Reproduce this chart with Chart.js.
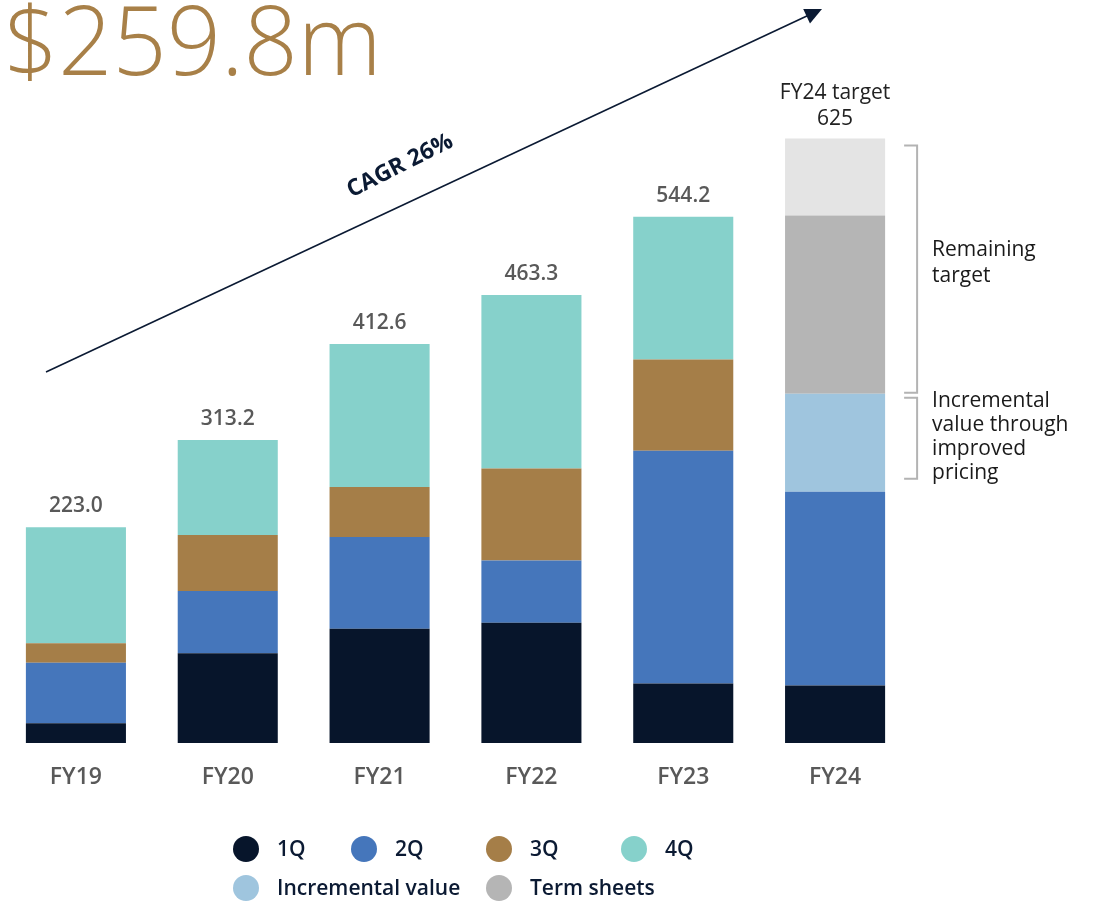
<!DOCTYPE html>
<html>
<head>
<meta charset="utf-8">
<script src="https://cdn.jsdelivr.net/npm/chart.js@4.4.0/dist/chart.umd.min.js"></script>
<style>
  body { margin: 0; background: #fff; }
  #wrap { position: relative; width: 1097px; height: 907px; overflow: hidden; }
</style>
</head>
<body>
<div id="wrap"><canvas id="chart" width="1097" height="907"></canvas></div>
<script>
// data ($m per quarter)
const years = ['FY19', 'FY20', 'FY21', 'FY22', 'FY23', 'FY24'];
const q1 = [20.3, 92.9, 118.1, 124.4, 61.5, 59.4];
const q2 = [62.6, 64.2, 94.9, 64.2, 240.7, 200.4];
const q3 = [20.3, 58.0, 51.8, 95.3, 94.3, null];
const q4 = [119.8, 98.1, 147.8, 179.4, 147.7, null];
const incremental = [null, null, null, null, null, 101.2];
const termSheets = [null, null, null, null, null, 184.4];
const remaining = [null, null, null, null, null, 79.6];
const totals = [223.0, 313.2, 412.6, 463.3, 544.2, 625];

const headline = '$259.8m';
const cagrText = 'CAGR 26%';

const FONT = '"Open Sans", sans-serif';
const NAVY = '#0b1a33';
Chart.defaults.font.family = FONT;

function ds(label, data, color, inLegend) {
  return { label, data, backgroundColor: color, borderWidth: 0, inLegend };
}

const overlay = {
  id: 'overlay',
  afterDatasetsDraw(chart) {
    const ctx = chart.ctx;
    const x = chart.scales.x, y = chart.scales.y;
    const meta = chart.getDatasetMeta(0);
    ctx.save();
    ctx.textAlign = 'center';
    ctx.textBaseline = 'middle';
    totals.forEach((t, i) => {
      const cx = x.getPixelForValue(i);
      const top = y.getPixelForValue(t);
      if (i === years.length - 1) {
        ctx.font = '400 21px ' + FONT;
        ctx.fillStyle = '#222';
        ctx.fillText('FY24 target', cx, top - 46);
        ctx.fillText(String(t), cx, top - 20);
      } else {
        ctx.font = '600 21px ' + FONT;
        ctx.fillStyle = '#595959';
        ctx.fillText(t.toFixed(1), cx, top - 21);
      }
    });

    // brackets beside the FY24 bar
    const last = years.length - 1;
    const barRight = meta.data[last].x + meta.data[last].width / 2;
    const base2 = q1[last] + q2[last];
    const yTop = y.getPixelForValue(totals[last]) + 7;
    const yMid = y.getPixelForValue(base2 + incremental[last]);
    const yLow = y.getPixelForValue(base2) - 13;
    ctx.strokeStyle = '#b3b3b3';
    ctx.lineWidth = 2;
    const bx0 = barRight + 19, bx1 = barRight + 32;
    function bracket(a, b) {
      ctx.beginPath();
      ctx.moveTo(bx0, a); ctx.lineTo(bx1, a); ctx.lineTo(bx1, b); ctx.lineTo(bx0, b);
      ctx.stroke();
    }
    bracket(yTop, yMid - 1);
    bracket(yMid + 4, yLow);

    ctx.font = '400 21px ' + FONT;
    ctx.fillStyle = '#1a1a1a';
    ctx.textAlign = 'left';
    const tx = barRight + 47;
    const notes1 = ['Remaining', 'target'];
    const notes2 = ['Incremental', 'value through', 'improved', 'pricing'];
    let c1 = (yTop + yMid) / 2 - 7;
    notes1.forEach((s, k) => ctx.fillText(s, tx, c1 - 13 + k * 26));
    let c2 = (yMid + yLow) / 2 + 1;
    notes2.forEach((s, k) => ctx.fillText(s, tx, c2 - 36 + k * 24));
    ctx.restore();
  },
  afterDraw(chart) {
    const ctx = chart.ctx;
    ctx.save();
    // headline figure
    ctx.font = '300 95px ' + FONT;
    ctx.fillStyle = '#a88048';
    ctx.textAlign = 'left';
    ctx.textBaseline = 'alphabetic';
    ctx.fillText(headline, 4, 75);

    // growth arrow
    const ax0 = 46, ay0 = 372, ax1 = 822, ay1 = 9;
    const ang = Math.atan2(ay1 - ay0, ax1 - ax0);
    ctx.strokeStyle = NAVY;
    ctx.fillStyle = NAVY;
    ctx.lineWidth = 1.6;
    ctx.beginPath();
    ctx.moveTo(ax0, ay0);
    ctx.lineTo(ax1 - 12 * Math.cos(ang), ay1 - 12 * Math.sin(ang));
    ctx.stroke();
    ctx.save();
    ctx.translate(ax1, ay1);
    ctx.rotate(ang);
    ctx.beginPath();
    ctx.moveTo(0, 0);
    ctx.lineTo(-17, -8);
    ctx.lineTo(-17, 8);
    ctx.closePath();
    ctx.fill();
    ctx.restore();

    ctx.save();
    ctx.translate(400, 166);
    ctx.rotate(ang - 0.03);
    ctx.font = '700 23px ' + FONT;
    ctx.textAlign = 'center';
    ctx.textBaseline = 'middle';
    ctx.fillText(cagrText, 0, 0);
    ctx.restore();

    // legend
    const cols = [246, 364, 499, 634];
    const rows = [849, 888];
    const slots = [[0, 0], [0, 1], [0, 2], [0, 3], [1, 0], [1, 2]];
    const items = chart.data.datasets.filter(d => d.inLegend);
    ctx.font = '600 21px ' + FONT;
    ctx.textBaseline = 'middle';
    items.forEach((d, i) => {
      const [r, c] = slots[i];
      const cx = cols[c], cy = rows[r];
      ctx.fillStyle = d.backgroundColor;
      ctx.beginPath();
      ctx.arc(cx, cy, 13, 0, Math.PI * 2);
      ctx.fill();
      ctx.fillStyle = NAVY;
      ctx.fillText(d.label, cx + 31, cy + 1);
    });
    ctx.restore();
  }
};

new Chart(document.getElementById('chart'), {
  type: 'bar',
  data: {
    labels: years,
    datasets: [
      ds('1Q', q1, '#07152b', true),
      ds('2Q', q2, '#4576bb', true),
      ds('3Q', q3, '#a57e48', true),
      ds('4Q', q4, '#86d1cb', true),
      ds('Incremental value', incremental, '#9fc5de', true),
      ds('Term sheets', termSheets, '#b5b5b5', true),
      ds('Remaining target', remaining, '#e4e4e4', false)
    ]
  },
  options: {
    responsive: false,
    animation: false,
    layout: { padding: { top: 66, bottom: 114, left: -2, right: 186 } },
    datasets: { bar: { barPercentage: 0.659, categoryPercentage: 1 } },
    plugins: { legend: { display: false }, tooltip: { enabled: false } },
    scales: {
      x: {
        stacked: true,
        grid: { display: false, drawTicks: false },
        border: { display: false },
        ticks: { color: '#595959', padding: 21, font: { size: 23, weight: 600 } },
        afterFit: s => { s.height = 50; }
      },
      y: { stacked: true, display: false, min: 0, max: 700 }
    }
  },
  plugins: [overlay]
});
</script>
</body>
</html>
